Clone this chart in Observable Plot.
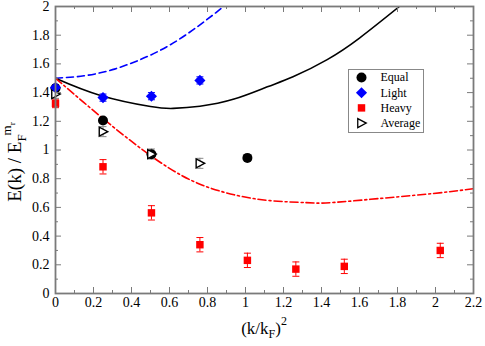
<!DOCTYPE html>
<html><head><meta charset="utf-8">
<script src="https://cdn.jsdelivr.net/npm/d3@7"></script>
<script src="https://cdn.jsdelivr.net/npm/@observablehq/plot@0.6"></script>
<style>body{margin:0;background:#fff}#chart{width:485px;height:346px}#chart svg, #chart svg text{font-family:"Liberation Serif", "DejaVu Serif", serif !important}</style>
</head><body><div id="chart"></div>
<script>
// ---- tick values / labels ----
const xTickValues = [0, 0.2, 0.4, 0.6, 0.8, 1, 1.2, 1.4, 1.6, 1.8, 2, 2.2];
const xTickLabels = ["0", "0.2", "0.4", "0.6", "0.8", "1", "1.2", "1.4", "1.6", "1.8", "2", "2.2"];
const xMinorTicks = [0.1, 0.3, 0.5, 0.7, 0.9, 1.1, 1.3, 1.5, 1.7, 1.9, 2.1];
const yTickValues = [0, 0.2, 0.4, 0.6, 0.8, 1, 1.2, 1.4, 1.6, 1.8, 2];
const yTickLabels = ["0", "0.2", "0.4", "0.6", "0.8", "1", "1.2", "1.4", "1.6", "1.8", "2"];
const yMinorTicks = [0.1, 0.3, 0.5, 0.7, 0.9, 1.1, 1.3, 1.5, 1.7, 1.9];

// ---- series ----
const seriesNames = ["Equal", "Light", "Heavy", "Average"];

const equalX = [0, 0.25, 0.505, 1.01];
const equalY = [1.43, 1.205, 0.97, 0.945];

const lightX = [0, 0.25, 0.505, 0.76];
const lightY = [1.435, 1.365, 1.375, 1.485];
const lightErr = [0.02, 0.025, 0.025, 0.025];

const heavyX = [0, 0.25, 0.505, 0.76, 1.01, 1.265, 1.52, 2.025];
const heavyY = [1.325, 0.883, 0.562, 0.34, 0.231, 0.17, 0.189, 0.30];
const heavyErr = [0.03, 0.05, 0.05, 0.05, 0.05, 0.05, 0.05, 0.05];

const avgX = [0, 0.25, 0.505, 0.76];
const avgY = [1.39, 1.128, 0.972, 0.907];
const avgErr = [0.03, 0.035, 0.035, 0.035];

// ---- theory curves ----
const blueCurveX = [0, 0.15, 0.3, 0.45, 0.6, 0.75, 0.885];
const blueCurveY = [1.5, 1.517, 1.56, 1.632, 1.73, 1.862, 2.0];
const blackCurveX = [0, 0.237, 0.5, 0.62, 0.76, 0.94, 1.115, 1.25, 1.43, 1.6, 1.81];
const blackCurveY = [1.5, 1.38, 1.303, 1.29, 1.305, 1.355, 1.44, 1.51, 1.63, 1.78, 2.0];
const redCurveX = [0, 0.15, 0.3, 0.45, 0.6, 0.76, 0.94, 1.13, 1.32, 1.45, 1.73, 1.99, 2.2];
const redCurveY = [1.5, 1.33, 1.165, 1.01, 0.872, 0.762, 0.688, 0.647, 0.633, 0.633, 0.665, 0.697, 0.73];

// ---- build tables ----
const zip = (xs, ys, es) => xs.map((x, i) => ({x, y: ys[i], e: es ? es[i] : 0}));
const equal = zip(equalX, equalY);
const light = zip(lightX, lightY, lightErr);
const heavy = zip(heavyX, heavyY, heavyErr);
const avg = zip(avgX, avgY, avgErr);
const blueCurve = zip(blueCurveX, blueCurveY);
const blackCurve = zip(blackCurveX, blackCurveY);
const redCurve = zip(redCurveX, redCurveY);

const xLabelMap = new Map(xTickValues.map((v, i) => [v, xTickLabels[i]]));
const yLabelMap = new Map(yTickValues.map((v, i) => [v, yTickLabels[i]]));

// custom symbols
const triRight = {draw(ctx, size) { const r = Math.sqrt(size / Math.PI);
  ctx.moveTo(-0.75 * r, -0.9 * r); ctx.lineTo(0.95 * r, 0); ctx.lineTo(-0.75 * r, 0.9 * r); ctx.closePath(); }};
const capSym = {draw(ctx, size) { const r = Math.sqrt(size / Math.PI);
  ctx.moveTo(-r, 0); ctx.lineTo(r, 0); }};

const W = 485, H = 346, mL = 55, mR = 12, mT = 6, mB = 53;
const iw = W - mL - mR, ih = H - mT - mB;
const axisColor = "#7a7a7a";
const serif = "Liberation Serif";

function errorMarks(data, color) {
  return [
    Plot.ruleX(data, {x: "x", y1: d => d.y - d.e, y2: d => d.y + d.e, stroke: color, strokeWidth: 1}),
    Plot.dot(data, {x: "x", y: d => d.y + d.e, symbol: capSym, r: 3.5, stroke: color, fill: "none", strokeWidth: 1}),
    Plot.dot(data, {x: "x", y: d => d.y - d.e, symbol: capSym, r: 3.5, stroke: color, fill: "none", strokeWidth: 1})
  ];
}

const legendStyles = [
  {symbol: "circle", fill: "black", stroke: "none", r: 5},
  {symbol: "diamond2", fill: "blue", stroke: "none", r: 5},
  {symbol: "square", fill: "red", stroke: "none", r: 4.2},
  {symbol: triRight, fill: "white", stroke: "black", r: 5}
];
const legendMarks = seriesNames.flatMap((name, i) => {
  const s = legendStyles[i];
  return [
    Plot.dot([name], {frameAnchor: "top-left", dx: 306, dy: 71 + i * 15.2, symbol: s.symbol, r: s.r, fill: s.fill, stroke: s.stroke, strokeWidth: 1.3}),
    Plot.text([name], {frameAnchor: "top-left", dx: 325, dy: 71 + i * 15.2, text: d => d, textAnchor: "start", lineAnchor: "middle", fontSize: 12, fontFamily: serif, fill: "black"})
  ];
});

const plot = Plot.plot({
  width: W, height: H,
  marginLeft: mL, marginRight: mR, marginTop: mT, marginBottom: mB,
  style: {fontFamily: serif, background: "white", color: "black"},
  x: {domain: [0, 2.2]},
  y: {domain: [0, 2]},
  marks: [
    // curves
    Plot.line(blueCurve, {x: "x", y: "y", curve: "natural", stroke: "blue", strokeWidth: 1.6, strokeDasharray: "7,4", clip: true}),
    Plot.line(blackCurve, {x: "x", y: "y", curve: "natural", stroke: "black", strokeWidth: 1.6, clip: true}),
    Plot.line(redCurve, {x: "x", y: "y", curve: "natural", stroke: "red", strokeWidth: 1.6, strokeDasharray: "8,3,2,3", clip: true}),
    // error bars
    ...errorMarks(light, "blue"),
    ...errorMarks(heavy, "red"),
    ...errorMarks(avg, "#888"),
    // points
    Plot.dot(equal, {x: "x", y: "y", r: 5, fill: "black"}),
    Plot.dot(avg, {x: "x", y: "y", r: 5, symbol: triRight, fill: "white", stroke: "black", strokeWidth: 1.4}),
    Plot.dot(light, {x: "x", y: "y", r: 5, symbol: "diamond2", fill: "blue"}),
    Plot.dot(heavy, {x: "x", y: "y", r: 4.2, symbol: "square", fill: "red"}),
    // ticks (inward, all four sides)
    Plot.tickX(xTickValues, {x: d => d, insetTop: ih - 6, stroke: axisColor, strokeWidth: 1}),
    Plot.tickX(xTickValues, {x: d => d, insetBottom: ih - 6, stroke: axisColor, strokeWidth: 1}),
    Plot.tickX(xMinorTicks, {x: d => d, insetTop: ih - 3, stroke: axisColor, strokeWidth: 1}),
    Plot.tickX(xMinorTicks, {x: d => d, insetBottom: ih - 3, stroke: axisColor, strokeWidth: 1}),
    Plot.tickY(yTickValues, {y: d => d, insetRight: iw - 6, stroke: axisColor, strokeWidth: 1}),
    Plot.tickY(yTickValues, {y: d => d, insetLeft: iw - 6, stroke: axisColor, strokeWidth: 1}),
    Plot.tickY(yMinorTicks, {y: d => d, insetRight: iw - 3, stroke: axisColor, strokeWidth: 1}),
    Plot.tickY(yMinorTicks, {y: d => d, insetLeft: iw - 3, stroke: axisColor, strokeWidth: 1}),
    Plot.frame({stroke: axisColor, strokeWidth: 1.8}),
    // tick labels
    Plot.axisX(xTickValues, {tickSize: 0, tickPadding: 4, tickFormat: d => xLabelMap.get(d), fontSize: 14, fontFamily: serif, label: null, fill: "black"}),
    Plot.axisY(yTickValues, {tickSize: 0, tickPadding: 6, tickFormat: d => yLabelMap.get(d), fontSize: 14, fontFamily: serif, label: null, fill: "black"}),
    // legend
    Plot.frame({insetLeft: 293, insetTop: 63, insetRight: 50, insetBottom: 161, stroke: "#888", strokeWidth: 1}),
    ...legendMarks
  ]
});
plot.style.fontFamily = '"Liberation Serif", serif';

// axis titles with sub/superscripts
const svg = d3.select(plot);
const xt = svg.append("text")
  .attr("x", mL + iw / 2).attr("y", 334)
  .attr("text-anchor", "middle").attr("font-family", serif).attr("font-size", 17).attr("fill", "black");
xt.append("tspan").text("(k/k");
xt.append("tspan").attr("font-size", 12).attr("dy", 4).text("F");
xt.append("tspan").attr("dy", -4).text(")");
xt.append("tspan").attr("font-size", 12).attr("dy", -9).text("2");

const yt = svg.append("text")
  .attr("transform", "translate(21,162) rotate(-90)")
  .attr("text-anchor", "middle").attr("font-family", serif).attr("font-size", 19).attr("fill", "black");
yt.append("tspan").text("E(k) / E");
yt.append("tspan").attr("font-size", 13).attr("dy", 5).text("F");
yt.append("tspan").attr("font-size", 13).attr("dy", -15).attr("dx", -1).text("m");
yt.append("tspan").attr("font-size", 9).attr("dy", 4).text("r");

document.getElementById("chart").appendChild(plot);
</script>
</body></html>
